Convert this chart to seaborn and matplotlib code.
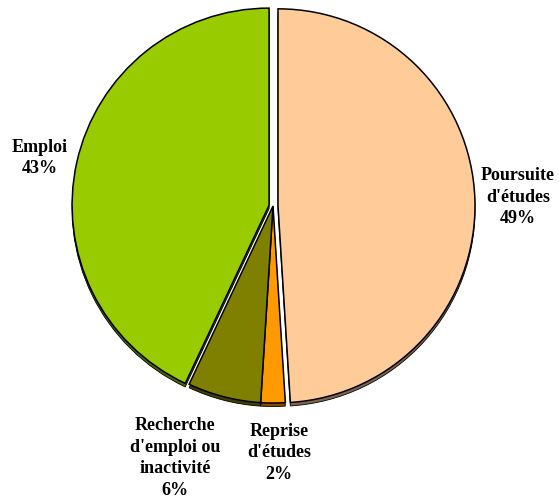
import numpy as np
import matplotlib
matplotlib.use("Agg")
import matplotlib.pyplot as plt
import seaborn as sns

# Données du graphique
categories = ["Poursuite\nd'études", "Reprise\nd'études",
              "Recherche\nd'emploi ou\ninactivité", "Emploi"]
valeurs = [49, 2, 6, 43]
couleurs = ["#FFCC99", "#FF9900", "#808000", "#99CC00"]

# Mise en page (pixels, origine en bas à gauche)
W, H = 559, 502
centre = (273, H - 207)
rayon = 197
explode = [5, 0, 0, 4]  # décalage en pixels (unités de données)
pos_labels = [(518, H - 197), (279, H - 453), (175, H - 458), (40, H - 158)]

sns.set_theme(style="white")
plt.rcParams['font.family'] = ['Liberation Serif', 'DejaVu Serif']

fig = plt.figure(figsize=(W / 100, H / 100), dpi=100)
ax = fig.add_axes([0, 0, 1, 1])

# ombre : même camembert, décalé vers le bas, en couleurs plus sombres
ombres = [tuple(c * 0.5 for c in matplotlib.colors.to_rgb(col)) for col in couleurs]
ax.pie(valeurs, colors=ombres, startangle=90, counterclock=False,
       explode=explode, radius=rayon, center=(centre[0], centre[1] - 3.5),
       wedgeprops=dict(edgecolor="black", linewidth=0.6), frame=True)

# camembert principal
ax.pie(valeurs, colors=couleurs, startangle=90, counterclock=False,
       explode=explode, radius=rayon, center=centre,
       wedgeprops=dict(edgecolor="black", linewidth=1.1), frame=True)

# étiquettes
for cat, val, (x, y) in zip(categories, valeurs, pos_labels):
    ax.text(x, y, f"{cat}\n{val}%", ha="center", va="center",
            fontsize=13, fontweight="bold", linespacing=1.35, color="black")

ax.set_xlim(0, W)
ax.set_ylim(0, H)
ax.set_aspect("equal")
ax.axis("off")

fig.savefig("out.png", dpi=100, facecolor="white")
